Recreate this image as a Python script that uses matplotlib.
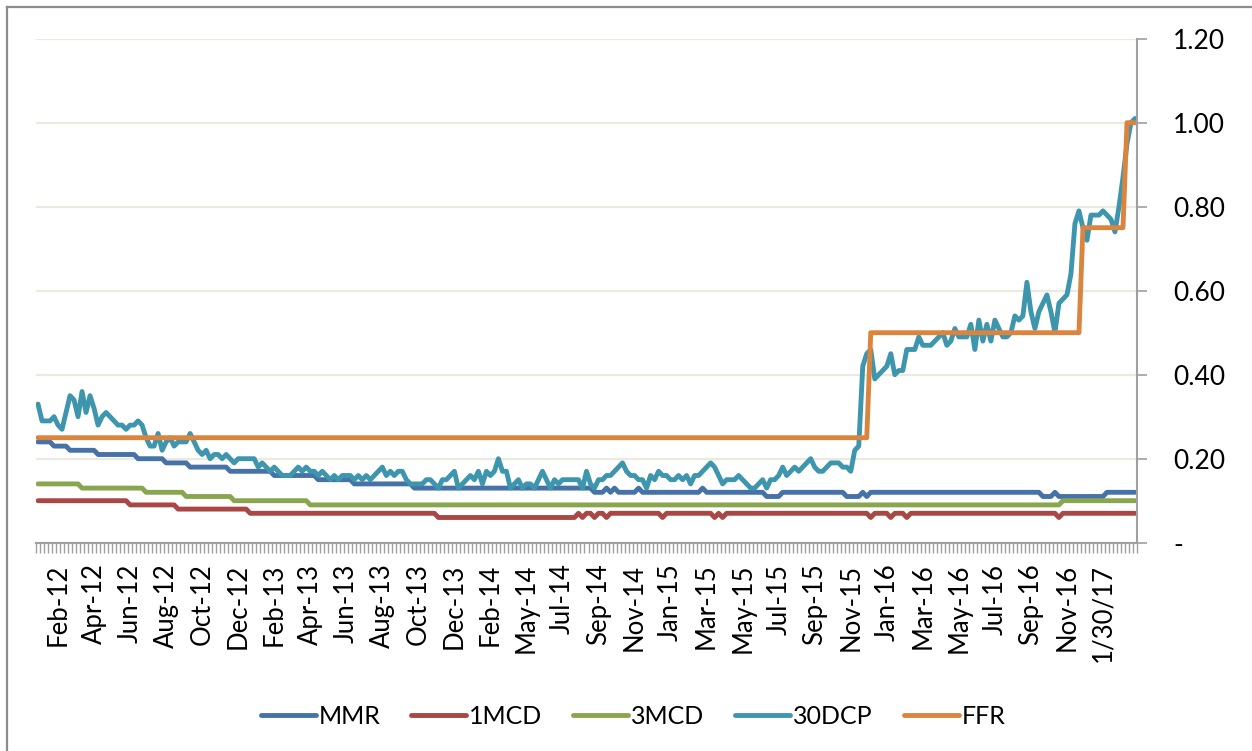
import matplotlib.pyplot as plt
import numpy as np
from matplotlib.lines import Line2D
from matplotlib.ticker import FuncFormatter

# weekly money market rates, Jan 2012 - Mar 2017
labels = ['Feb-12', 'Apr-12', 'Jun-12', 'Aug-12', 'Oct-12', 'Dec-12',
          'Feb-13', 'Apr-13', 'Jun-13', 'Aug-13', 'Oct-13', 'Dec-13',
          'Feb-14', 'May-14', 'Jul-14', 'Sep-14', 'Nov-14', 'Jan-15',
          'Mar-15', 'May-15', 'Jul-15', 'Sep-15', 'Nov-15', 'Jan-16',
          'Mar-16', 'May-16', 'Jul-16', 'Sep-16', 'Nov-16', '1/30/17']

mmr = ([0.24]*4 + [0.23]*4 + [0.22]*7 + [0.21]*10 + [0.20]*7 + [0.19]*6
       + [0.18]*10 + [0.17]*11 + [0.16]*11 + [0.15]*9 + [0.14]*15
       + [0.13]*45 + [0.12]*3 + [0.13] + [0.12] + [0.13] + [0.12]*5
       + [0.13] + [0.12]*15 + [0.13] + [0.12]*15 + [0.11]*4 + [0.12]*16
       + [0.11]*4 + [0.12] + [0.11] + [0.12]*43 + [0.11]*3 + [0.12]
       + [0.11]*12 + [0.12]*8)

mcd1 = ([0.10]*23 + [0.09]*12 + [0.08]*18 + [0.07]*47 + [0.06]*35
        + [0.07] + [0.06] + [0.07]*2 + [0.06] + [0.07]*2 + [0.06]
        + [0.07]*13 + [0.06] + [0.07]*12 + [0.06] + [0.07] + [0.06]
        + [0.07]*36 + [0.06] + [0.07]*4 + [0.06] + [0.07]*3 + [0.06]
        + [0.07]*37 + [0.06] + [0.07]*19)

mcd3 = [0.14]*11 + [0.13]*16 + [0.12]*10 + [0.11]*12 + [0.10]*19 + [0.09]*188 + [0.10]*19

dcp30 = [
    0.33, 0.29, 0.29, 0.29, 0.30, 0.28, 0.27, 0.31, 0.35, 0.34,
    0.30, 0.36, 0.31, 0.35, 0.32, 0.28, 0.30, 0.31, 0.30, 0.29,
    0.28, 0.28, 0.27, 0.28, 0.28, 0.29, 0.28, 0.25, 0.23, 0.23,
    0.26, 0.22, 0.24, 0.25, 0.23, 0.24, 0.24, 0.24, 0.26, 0.24,
    0.22, 0.21, 0.22, 0.20, 0.21, 0.21, 0.20, 0.21, 0.20, 0.19,
    0.20, 0.20, 0.20, 0.20, 0.20, 0.18, 0.19, 0.18, 0.17, 0.18,
    0.17, 0.16, 0.16, 0.16, 0.17, 0.18, 0.17, 0.18, 0.17, 0.17,
    0.16, 0.17, 0.16, 0.15, 0.16, 0.15, 0.16, 0.16, 0.16, 0.15,
    0.16, 0.15, 0.16, 0.15, 0.16, 0.17, 0.18, 0.16, 0.17, 0.16,
    0.17, 0.17, 0.15, 0.14, 0.14, 0.14, 0.14, 0.15, 0.15, 0.14,
    0.13, 0.15, 0.15, 0.16, 0.17, 0.13, 0.14, 0.15, 0.16, 0.15,
    0.17, 0.14, 0.17, 0.16, 0.17, 0.20, 0.17, 0.17, 0.13, 0.14,
    0.15, 0.13, 0.14, 0.14, 0.13, 0.15, 0.17, 0.15, 0.13, 0.15,
    0.14, 0.15, 0.15, 0.15, 0.15, 0.15, 0.13, 0.17, 0.14, 0.13,
    0.15, 0.15, 0.16, 0.16, 0.17, 0.18, 0.19, 0.17, 0.16, 0.16,
    0.15, 0.15, 0.13, 0.16, 0.15, 0.17, 0.16, 0.16, 0.15, 0.15,
    0.16, 0.15, 0.16, 0.14, 0.16, 0.16, 0.17, 0.18, 0.19, 0.18,
    0.16, 0.14, 0.15, 0.15, 0.15, 0.16, 0.15, 0.14, 0.13, 0.13,
    0.14, 0.15, 0.13, 0.15, 0.15, 0.16, 0.18, 0.16, 0.17, 0.18,
    0.17, 0.18, 0.19, 0.20, 0.18, 0.17, 0.17, 0.18, 0.19, 0.19,
    0.19, 0.18, 0.18, 0.17, 0.22, 0.23, 0.42, 0.45, 0.46, 0.39,
    0.40, 0.41, 0.42, 0.45, 0.40, 0.41, 0.41, 0.46, 0.46, 0.46,
    0.49, 0.47, 0.47, 0.47, 0.48, 0.49, 0.50, 0.47, 0.48, 0.51,
    0.49, 0.49, 0.49, 0.52, 0.46, 0.53, 0.48, 0.52, 0.48, 0.53,
    0.51, 0.49, 0.49, 0.50, 0.54, 0.53, 0.54, 0.62, 0.55, 0.51,
    0.55, 0.57, 0.59, 0.55, 0.50, 0.57, 0.58, 0.59, 0.64, 0.76,
    0.79, 0.75, 0.72, 0.78, 0.78, 0.78, 0.79, 0.78, 0.77, 0.74,
    0.80, 0.87, 0.95, 1.00, 1.01]

ffr = [0.25]*208 + [0.50]*53 + [0.75]*11 + [1.00]*3

series = [('MMR', mmr, '#4572A7'), ('1MCD', mcd1, '#AA4643'),
          ('3MCD', mcd3, '#89A54E'), ('30DCP', dcp30, '#3D96AE'),
          ('FFR', ffr, '#DB843D')]

plt.rcParams['font.family'] = ['Lato', 'DejaVu Sans']

W, H = 1252, 751
fig = plt.figure(figsize=(W/100, H/100), dpi=100)
ax = fig.add_axes([36/W, 208.3/H, 1101/W, 504/H])

n = len(mmr)
x = np.arange(n)
for name, vals, col in series:
    ax.plot(x, vals, color=col, lw=3.5, label=name,
            solid_capstyle='round', solid_joinstyle='round')

ax.set_xlim(-0.5, n - 0.5)
ax.set_ylim(0, 1.2)

for s in ['left', 'top']:
    ax.spines[s].set_visible(False)
for s in ['bottom', 'right']:
    ax.spines[s].set_color('#A0A0A0')
    ax.spines[s].set_linewidth(1.5)

# y axis on the right
ax.yaxis.tick_right()
ax.set_yticks(np.arange(0, 1.21, 0.2))
ax.yaxis.set_major_formatter(FuncFormatter(lambda v, p: '-' if abs(v) < 1e-9 else f'{v:.2f}'))
ax.tick_params(axis='y', direction='out', length=7, width=1.2, color='#A0A0A0',
               pad=19, labelsize=19)
ax.yaxis.grid(True, color='#ECE9DF', lw=1.6)
ax.set_axisbelow(True)

# category axis: a tick every week, a label every 9 weeks
label_pos = 5 + 9*np.arange(len(labels))
ax.set_xticks(label_pos, labels, rotation=90)
ax.set_xticks(np.arange(-0.5, n), minor=True)
ax.tick_params(axis='x', which='major', length=0, pad=15, labelsize=18.5)
ax.tick_params(axis='x', which='minor', direction='out', length=7, width=1,
               color='#A0A0A0')

fig.legend(ncol=5, loc='center', bbox_to_anchor=(633/W, 1 - 716/H),
           frameon=False, fontsize=18, handlelength=2.2, handletextpad=0.1,
           columnspacing=1.25)

# chart area border (left and top are visible in the crop)
fig.add_artist(Line2D([7/W, 7/W], [0, 1 - 7/H], color='#8C8C8C', lw=1.6))
fig.add_artist(Line2D([7/W, 1], [1 - 7/H, 1 - 7/H], color='#8C8C8C', lw=1.6))

plt.savefig('out.png', dpi=100)
